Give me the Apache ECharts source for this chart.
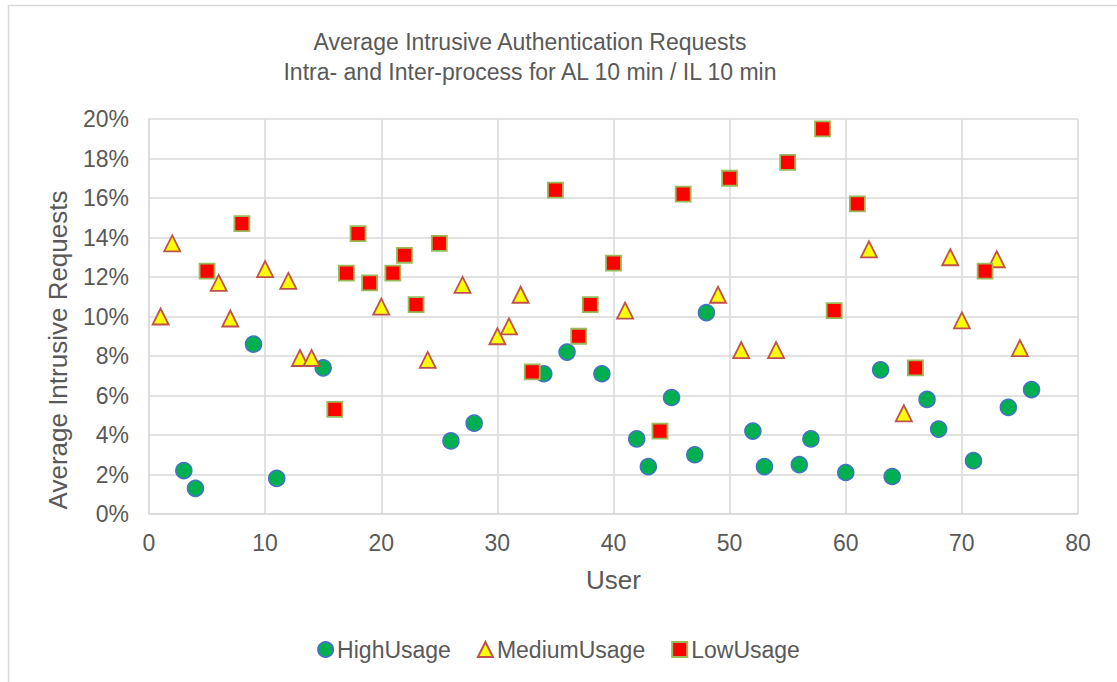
<!DOCTYPE html>
<html>
<head>
<meta charset="utf-8">
<title>Average Intrusive Authentication Requests</title>
<script src="https://cdn.jsdelivr.net/npm/echarts@6/dist/echarts.min.js"></script>
<style>
  html, body { margin: 0; padding: 0; background: #ffffff; }
  #chart { width: 1117px; height: 682px; }
</style>
</head>
<body>
<div id="chart"></div>
<script>
// User ids and average intrusive request rates (percent) per usage group
const highUsers  = [3, 4, 9, 11, 15, 26, 28, 34, 36, 39, 42, 43, 45, 47, 48, 52, 53, 56, 57, 60, 63, 64, 67, 68, 71, 74, 76];
const highValues = [2.2, 1.3, 8.6, 1.8, 7.4, 3.7, 4.6, 7.1, 8.2, 7.1, 3.8, 2.4, 5.9, 3.0, 10.2, 4.2, 2.4, 2.5, 3.8, 2.1, 7.3, 1.9, 5.8, 4.3, 2.7, 5.4, 6.3];

const mediumUsers  = [1, 2, 6, 7, 10, 12, 13, 14, 20, 24, 27, 30, 31, 32, 41, 49, 51, 54, 62, 65, 69, 70, 73, 75];
const mediumValues = [10.0, 13.7, 11.7, 9.9, 12.4, 11.8, 7.9, 7.9, 10.5, 7.8, 11.6, 9.0, 9.5, 11.1, 10.3, 11.1, 8.3, 8.3, 13.4, 5.1, 13.0, 9.8, 12.9, 8.4];

const lowUsers  = [5, 8, 16, 17, 18, 19, 21, 22, 23, 25, 33, 35, 37, 38, 40, 44, 46, 50, 55, 58, 59, 61, 66, 72];
const lowValues = [12.3, 14.7, 5.3, 12.2, 14.2, 11.7, 12.2, 13.1, 10.6, 13.7, 7.2, 16.4, 9.0, 10.6, 12.7, 4.2, 16.2, 17.0, 17.8, 19.5, 10.3, 15.7, 7.4, 12.3];

const seriesNames = ['HighUsage', 'MediumUsage', 'LowUsage'];
const titleLines = ['Average Intrusive Authentication Requests', 'Intra- and Inter-process for AL 10 min / IL 10 min'];
const xAxisTitle = 'User';
const yAxisTitle = 'Average Intrusive Requests';

const FONT = '"Liberation Sans", Arial, sans-serif';
const TEXT = '#595959';
const GRID = '#d9d9d9';

function pairs(xs, ys) {
  return xs.map((x, i) => [x, ys[i]]);
}

const chart = echarts.init(document.getElementById('chart'), null, { renderer: 'svg' });

chart.setOption({
  backgroundColor: '#ffffff',
  animation: false,
  textStyle: { fontFamily: FONT, color: TEXT },
  grid: { left: 149, top: 119, width: 929, height: 395 },
  legend: {
    data: seriesNames,
    left: 'center',
    top: 633,
    itemWidth: 15,
    itemHeight: 15,
    itemGap: 26,
    textStyle: { fontFamily: FONT, fontSize: 23, color: TEXT, padding: [0, 0, 0, -1] }
  },
  xAxis: {
    type: 'value',
    min: 0,
    max: 80,
    interval: 10,
    name: xAxisTitle,
    nameLocation: 'middle',
    nameGap: 53,
    nameTextStyle: { fontFamily: FONT, fontSize: 26, color: TEXT },
    axisLine: { show: true, lineStyle: { color: GRID, width: 1.5 } },
    axisTick: { show: false },
    axisLabel: { fontFamily: FONT, fontSize: 23, color: TEXT, margin: 17 },
    splitLine: { show: true, lineStyle: { color: GRID, width: 1.5 } }
  },
  yAxis: {
    type: 'value',
    min: 0,
    max: 20,
    interval: 2,
    axisLine: { show: true, lineStyle: { color: GRID, width: 1.5 } },
    axisTick: { show: false },
    axisLabel: { fontFamily: FONT, fontSize: 23, color: TEXT, margin: 20, formatter: '{value}%' },
    splitLine: { show: true, lineStyle: { color: GRID, width: 1.5 } }
  },
  graphic: [
    {
      type: 'rect',
      silent: true,
      shape: { x: 8.5, y: 5.5, width: 1300, height: 900 },
      style: { fill: 'none', stroke: GRID, lineWidth: 1.5 }
    },
    {
      type: 'text',
      silent: true,
      style: {
        x: 530, y: 42, text: titleLines[0], align: 'center', verticalAlign: 'middle',
        font: '23px ' + FONT, fill: TEXT
      }
    },
    {
      type: 'text',
      silent: true,
      style: {
        x: 530, y: 72, text: titleLines[1], align: 'center', verticalAlign: 'middle',
        font: '23px ' + FONT, fill: TEXT
      }
    },
    {
      type: 'text',
      silent: true,
      x: 58,
      y: 350,
      rotation: Math.PI / 2,
      style: {
        x: 0, y: 0, text: yAxisTitle, align: 'center', verticalAlign: 'middle',
        font: '26px ' + FONT, fill: TEXT
      }
    }
  ],
  series: [
    {
      name: seriesNames[0],
      type: 'scatter',
      symbol: 'circle',
      symbolSize: 16,
      data: pairs(highUsers, highValues),
      itemStyle: { color: '#00b050', borderColor: '#4472c4', borderWidth: 1.5, opacity: 1 }
    },
    {
      name: seriesNames[1],
      type: 'scatter',
      symbol: 'triangle',
      symbolSize: 16,
      data: pairs(mediumUsers, mediumValues),
      itemStyle: { color: '#ffff00', borderColor: '#c0504d', borderWidth: 1.8, opacity: 1 }
    },
    {
      name: seriesNames[2],
      type: 'scatter',
      symbol: 'rect',
      symbolSize: 15,
      data: pairs(lowUsers, lowValues),
      itemStyle: { color: '#ff0000', borderColor: '#9bbb59', borderWidth: 1.8, opacity: 1 }
    }
  ]
});
</script>
</body>
</html>
